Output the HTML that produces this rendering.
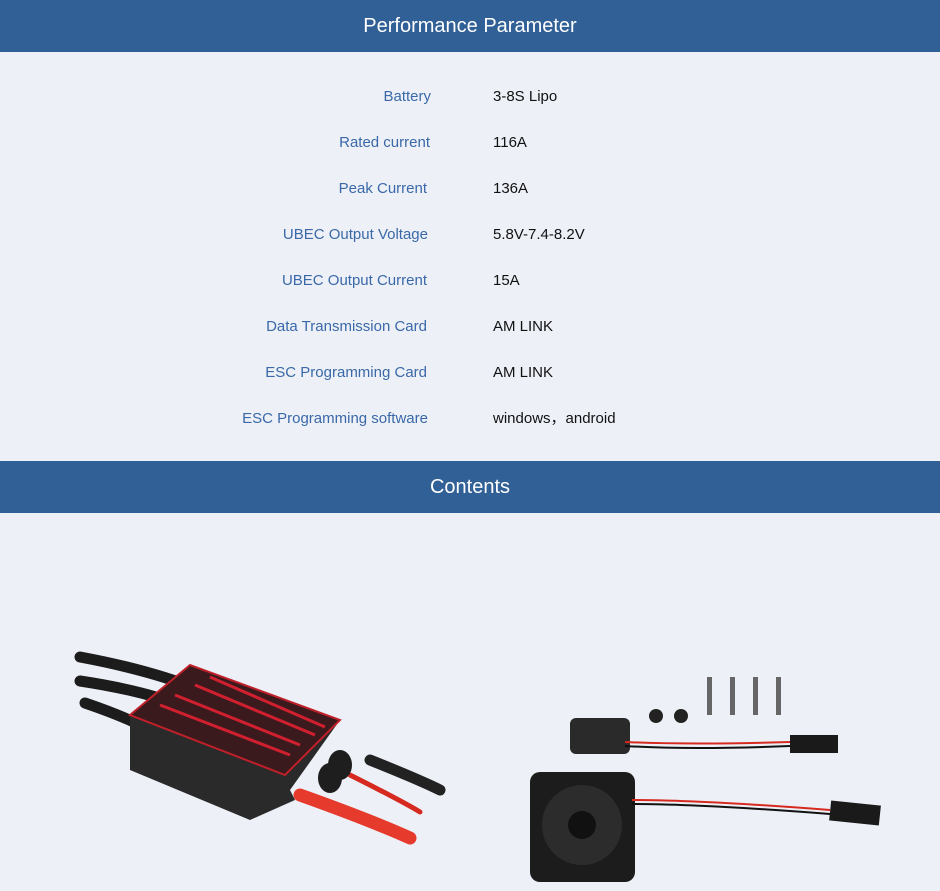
<!DOCTYPE html>
<html><head><meta charset="utf-8"><style>
*{margin:0;padding:0;box-sizing:border-box}
body{width:940px;height:891px;background:#edf1f7;font-family:"Liberation Sans","Noto Sans CJK SC",sans-serif;position:relative;overflow:hidden}
.bar{position:absolute;left:0;width:940px;height:52px;background:#316096;color:#fff;font-size:20px;text-align:center;line-height:52px}
.l{position:absolute;right:511px;color:#3a68a8;font-size:15px;line-height:18px;text-align:right;white-space:nowrap}
.v{position:absolute;left:493px;color:#111;font-size:15px;line-height:18px;white-space:nowrap}
</style></head><body>
<div class="bar" style="top:0">Performance Parameter</div>
<div class="l" style="top:88px;right:509px">Battery</div><div class="v" style="top:88px">3-8S Lipo</div>
<div class="l" style="top:134px;right:510px">Rated current</div><div class="v" style="top:134px">116A</div>
<div class="l" style="top:180px;right:513px">Peak Current</div><div class="v" style="top:180px">136A</div>
<div class="l" style="top:226px;right:512px">UBEC Output Voltage</div><div class="v" style="top:226px">5.8V-7.4-8.2V</div>
<div class="l" style="top:272px;right:513px">UBEC Output Current</div><div class="v" style="top:272px">15A</div>
<div class="l" style="top:318px;right:513px">Data Transmission Card</div><div class="v" style="top:318px">AM LINK</div>
<div class="l" style="top:364px;right:513px">ESC Programming Card</div><div class="v" style="top:364px">AM LINK</div>
<div class="l" style="top:410px;right:512px">ESC Programming software</div><div class="v" style="top:410px">windows，android</div>
<div class="bar" style="top:461px">Contents</div>
<svg width="940" height="891" style="position:absolute;left:0;top:0">
<g fill="none" stroke-linecap="round">
<path d="M80 657 Q150 670 200 690" stroke="#1c1c1c" stroke-width="11"/>
<path d="M80 681 Q140 690 180 705" stroke="#1c1c1c" stroke-width="11"/>
<path d="M85 703 Q120 715 140 725" stroke="#1c1c1c" stroke-width="11"/>
<path d="M370 760 Q420 780 440 790" stroke="#222" stroke-width="11"/>
<path d="M300 795 Q370 820 410 838" stroke="#e53a2c" stroke-width="13"/>
<path d="M350 775 Q400 800 420 812" stroke="#d62a20" stroke-width="5"/>
</g>
<polygon points="130,715 190,665 340,720 290,790 295,800 250,820 130,770" fill="#2a2a2a"/>
<polygon points="130,715 190,665 340,720 285,775" fill="#3a1a1c" stroke="#c0202a" stroke-width="2"/>
<path d="M160 705 L290 755 M175 695 L300 745 M195 685 L315 735 M210 677 L325 727" stroke="#d02030" stroke-width="3"/>
<ellipse cx="340" cy="765" rx="12" ry="15" fill="#1e1e1e"/>
<ellipse cx="330" cy="778" rx="12" ry="15" fill="#1e1e1e"/>
<rect x="570" y="718" width="60" height="36" rx="6" fill="#2a2a2a"/>
<path d="M625 742 Q690 745 790 742" stroke="#d62a20" stroke-width="2" fill="none"/>
<path d="M625 746 Q690 750 790 746" stroke="#111" stroke-width="2" fill="none"/>
<rect x="790" y="735" width="48" height="18" fill="#1a1a1a"/>
<rect x="707" y="677" width="5" height="38" fill="#666"/><rect x="730" y="677" width="5" height="38" fill="#666"/>
<rect x="753" y="677" width="5" height="38" fill="#666"/><rect x="776" y="677" width="5" height="38" fill="#666"/>
<circle cx="656" cy="716" r="7" fill="#222"/><circle cx="681" cy="716" r="7" fill="#222"/>
<rect x="530" y="772" width="105" height="110" rx="10" fill="#1c1c1c"/>
<circle cx="582" cy="825" r="40" fill="#2c2c2c"/>
<circle cx="582" cy="825" r="14" fill="#111"/>
<path d="M632 800 Q700 800 830 810" stroke="#d62a20" stroke-width="2" fill="none"/>
<path d="M632 804 Q700 804 830 814" stroke="#111" stroke-width="2" fill="none"/>
<rect x="830" y="803" width="50" height="20" fill="#1a1a1a" transform="rotate(6 855 813)"/>
</svg>
</body></html>
